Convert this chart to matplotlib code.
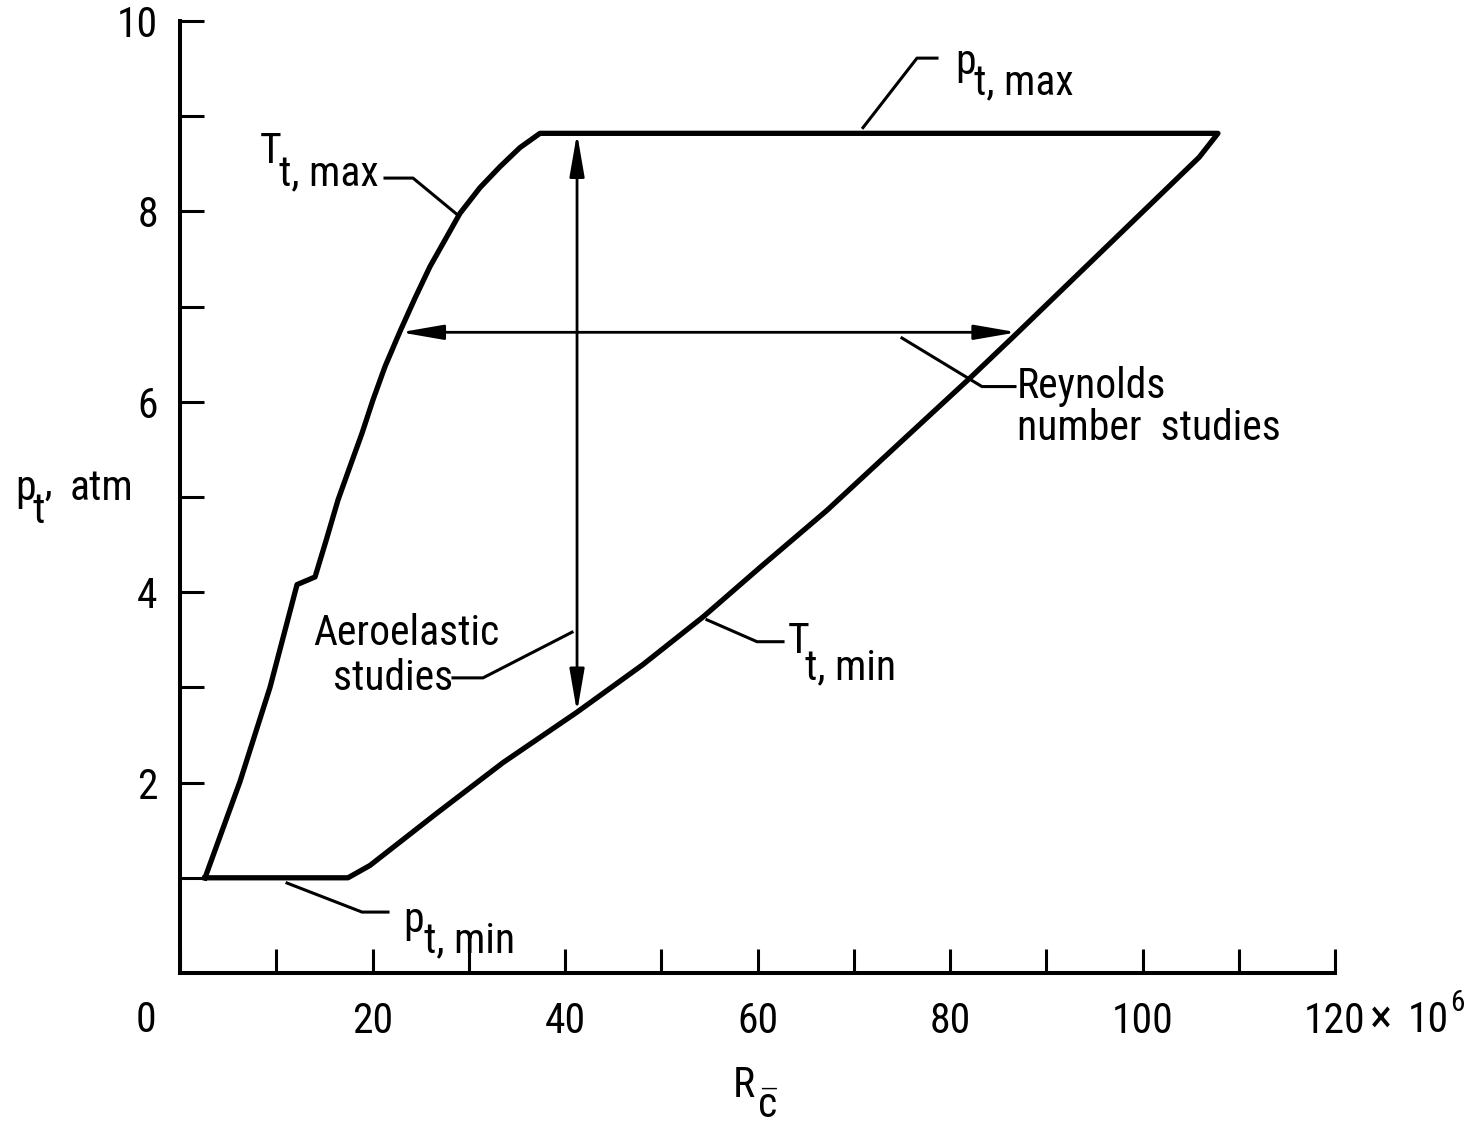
import matplotlib
matplotlib.use("Agg")
import matplotlib.pyplot as plt
from matplotlib import font_manager

# Operating envelope: total pressure p_t (atm) vs Reynolds number R_cbar (millions)
# Boundary traced from the lower-left corner, up the T_t,max curve and round.
tt_max_r = [2.6, 6.23, 9.35, 12.16, 14.03, 15.2, 16.42, 17.66, 18.91, 20.05, 21.3, 22.86,
            24.42, 25.97, 27.53, 29.09, 31.17, 33.25, 35.32, 37.4]
tt_max_p = [1.0, 2.01, 3.0, 4.08, 4.16, 4.55, 4.97, 5.32, 5.67, 6.02, 6.37, 6.74,
            7.09, 7.42, 7.70, 7.98, 8.25, 8.47, 8.67, 8.82]

pt_max_r = [37.4, 107.84]
pt_max_p = [8.82, 8.82]

tt_min_r = [107.84, 105.9, 86.96, 82.08, 75.12, 67.22, 60.26, 54.34, 48.1, 41.25, 33.56, 26.7, 19.74, 17.45]
tt_min_p = [8.82, 8.57, 6.72, 6.25, 5.6, 4.86, 4.26, 3.74, 3.24, 2.74, 2.21, 1.68, 1.13, 1.0]

pt_min_r = [17.45, 2.6]
pt_min_p = [1.0, 1.0]

# study ranges shown as double-headed arrows
aero_r = 41.25
aero_p = [8.82, 2.74]
reyn_p = 6.73
reyn_r = [22.9, 86.96]

x_major = [0, 20, 40, 60, 80, 100, 120]
x_labels = ["", "20", "40", "60", "80", "100", "120"]
x_minor = [10, 30, 50, 70, 90, 110]
y_major = [2, 4, 6, 8, 10]
y_minor = [1, 3, 5, 7, 9]

installed = {f.name for f in font_manager.fontManager.ttflist}
font = "Roboto Condensed" if "Roboto Condensed" in installed else "DejaVu Sans"
plt.rcParams["font.family"] = [font, "DejaVu Sans"]
plt.rcParams["font.stretch"] = "condensed"
plt.rcParams["mathtext.fontset"] = "custom"
plt.rcParams["mathtext.rm"] = font
plt.rcParams["mathtext.it"] = font
FS = 30

fig = plt.figure(figsize=(14.75, 11.24), dpi=100)
ax = fig.add_axes([180 / 1475, 1 - 973 / 1124, 1155 / 1475, 952 / 1124])

env_r = tt_max_r + pt_max_r + tt_min_r + pt_min_r
env_p = tt_max_p + pt_max_p + tt_min_p + pt_min_p
ax.plot(env_r, env_p, color="black", lw=3.8, solid_joinstyle="round", clip_on=False)

arrow = dict(arrowstyle="<|-|>,head_length=2.6,head_width=0.45", mutation_scale=10,
             color="black", lw=2.0, shrinkA=0, shrinkB=0)
ax.annotate("", xy=(aero_r, aero_p[1]), xytext=(aero_r, aero_p[0]), arrowprops=arrow)
ax.annotate("", xy=(reyn_r[1], reyn_p), xytext=(reyn_r[0], reyn_p), arrowprops=arrow)

# leader lines from labels to the curves
leaders = [
    ([70.96, 76.57, 78.65], [8.88, 9.61, 9.61]),
    ([21.3, 24.21, 28.88], [8.35, 8.35, 7.96]),
    ([75.01, 83.32, 86.75], [6.67, 6.16, 6.16]),
    ([28.36, 31.48, 40.73], [3.10, 3.10, 3.58]),
    ([54.75, 59.95, 62.65], [3.71, 3.48, 3.48]),
    ([11.12, 18.91, 21.61], [0.945, 0.64, 0.64]),
]
for lx, ly in leaders:
    ax.plot(lx, ly, color="black", lw=2.2, clip_on=False)


def sub_label(x, y, main, sub, xs, ys):
    ax.text(x, y, main, fontsize=FS, ha="left", va="baseline", clip_on=False)
    ax.text(xs, ys, sub, fontsize=FS, ha="left", va="baseline", clip_on=False)


sub_label(80.52, 9.44, "p", "t, max", 82.5, 9.22)
sub_label(8.31, 8.51, "T", "t, max", 10.3, 8.26)
sub_label(63.17, 3.36, "T", "t, min", 64.9, 3.08)
sub_label(23.17, 0.43, "p", "t, min", 25.3, 0.22)

ax.text(13.82, 3.45, "Aeroelastic", fontsize=FS, ha="left", va="baseline")
ax.text(15.9, 2.97, "studies", fontsize=FS, ha="left", va="baseline")
ax.text(86.96, 6.04, "Reynolds", fontsize=FS, ha="left", va="baseline")
ax.text(86.96, 5.6, "number  studies", fontsize=FS, ha="left", va="baseline")

# axis titles
sub_label(-17.14, 4.97, "p", "t\u2019", -15.3, 4.73)
ax.text(-11.43, 4.97, "atm", fontsize=FS, ha="left", va="baseline", clip_on=False)
sub_label(57.45, -1.30, "R", r"$\bar{\mathregular{c}}$", 59.95, -1.52)

# axis origin and the 10^6 multiplier on the last R tick
ax.text(-3.5, -0.62, "0", fontsize=FS, ha="center", va="baseline", clip_on=False)
ax.text(123.6, -0.62, "\u00d7", fontsize=34, ha="left", va="baseline", clip_on=False)
ax.text(127.6, -0.62, "10", fontsize=FS, ha="left", va="baseline", clip_on=False)
ax.text(131.95, -0.40, "6", fontsize=21, ha="left", va="baseline", clip_on=False)

ax.set_xlim(0, 120)
ax.set_ylim(0, 10)
ax.set_xticks(x_major)
ax.set_xticklabels(x_labels)
ax.set_xticks(x_minor, minor=True)
ax.set_yticks(y_major)
ax.set_yticklabels([str(v) for v in y_major])
ax.set_yticks(y_minor, minor=True)

ax.tick_params(which="both", direction="in", length=17, width=2.2, labelsize=FS)
ax.tick_params(axis="x", pad=20)
ax.tick_params(axis="y", pad=16)
for side in ["top", "right"]:
    ax.spines[side].set_visible(False)
for side in ["left", "bottom"]:
    ax.spines[side].set_linewidth(2.9)

fig.savefig("out.png", dpi=100)
